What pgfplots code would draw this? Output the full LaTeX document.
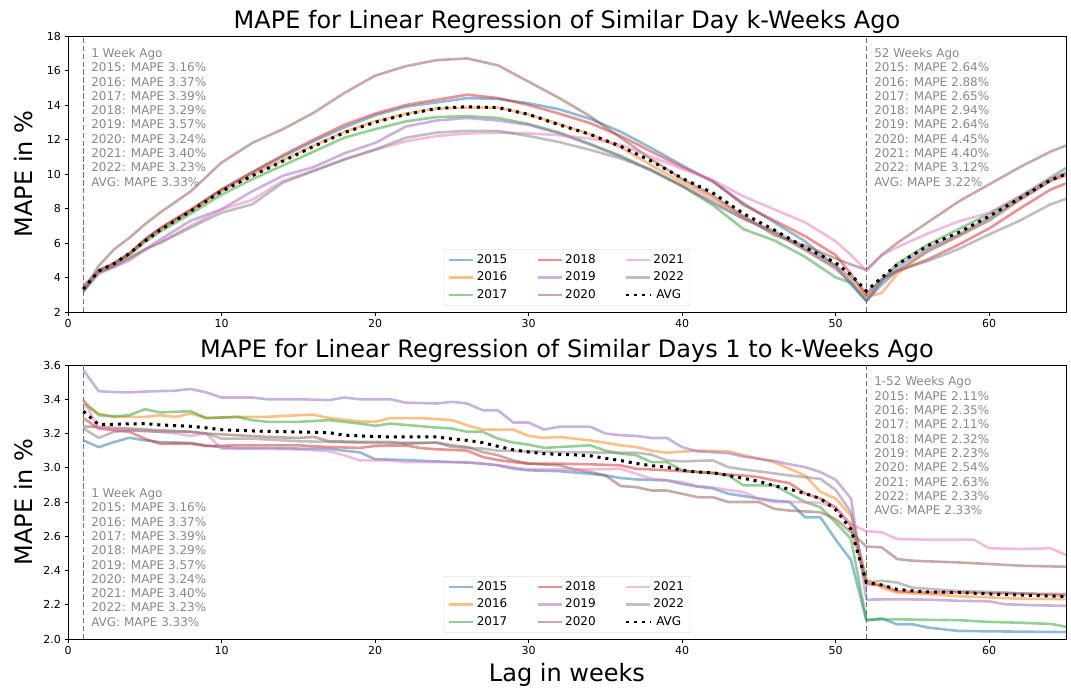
\documentclass[border=0pt]{standalone}
\usepackage{pgfplots}
\pgfplotsset{compat=1.18}
\usepackage{pgfplotstable}
\usepackage{fontspec}
\setmainfont{DejaVu Sans}
\definecolor{c15}{RGB}{31,119,180}
\definecolor{c16}{RGB}{255,127,14}
\definecolor{c17}{RGB}{44,160,44}
\definecolor{c18}{RGB}{214,39,40}
\definecolor{c19}{RGB}{148,103,189}
\definecolor{c20}{RGB}{140,86,75}
\definecolor{c21}{RGB}{227,119,194}
\definecolor{c22}{RGB}{127,127,127}
\definecolor{annotc}{RGB}{136,136,136}
\definecolor{vlinec}{RGB}{110,110,110}
\definecolor{legedge}{RGB}{204,204,204}

\pgfplotstableread{
w y15 y16 y17 y18 y19 y20 y21 y22 avg
1 3.16 3.37 3.39 3.29 3.57 3.24 3.40 3.23 3.33
2 4.40 4.35 4.35 4.40 4.30 4.67 4.30 4.20 4.38
3 4.80 4.75 4.70 4.85 4.60 5.63 4.70 4.65 4.80
4 5.40 5.35 5.30 5.40 5.00 6.30 5.10 5.15 5.40
5 6.20 6.15 6.05 6.20 5.60 7.08 5.60 5.64 6.10
6 6.85 6.80 6.65 6.85 6.20 7.76 6.05 6.00 6.75
8 7.90 7.85 7.70 7.95 7.30 9.00 7.00 6.90 7.85
10 9.10 9.00 8.80 9.10 7.95 10.66 7.95 7.76 9.00
12 10.10 9.95 9.70 10.10 9.00 11.80 8.50 8.24 9.90
14 11.00 10.80 10.50 11.10 9.90 12.60 9.60 9.50 10.75
16 11.90 11.65 11.30 12.00 10.40 13.55 10.20 10.17 11.60
18 12.70 12.45 12.10 12.85 11.20 14.70 10.85 10.84 12.40
20 13.40 13.05 12.60 13.50 11.80 15.70 11.40 11.42 13.00
22 13.90 13.50 13.05 14.00 12.75 16.25 11.90 12.10 13.45
24 14.15 13.80 13.30 14.30 13.10 16.60 12.20 12.40 13.80
26 14.40 13.85 13.35 14.60 13.25 16.70 12.35 12.50 13.90
28 14.35 13.85 13.25 14.40 13.10 16.30 12.40 12.50 13.85
30 14.10 13.45 12.90 14.00 12.85 15.35 12.35 12.20 13.45
32 13.75 12.90 12.40 13.50 12.35 14.40 12.25 11.85 12.85
34 13.20 12.30 11.75 12.95 11.70 13.35 12.05 11.40 12.30
36 12.45 11.55 11.05 12.20 11.00 12.10 11.70 10.90 11.60
38 11.50 10.50 10.20 11.30 10.20 10.85 11.00 10.25 10.75
40 10.50 9.50 9.30 10.40 9.30 9.70 10.30 9.30 9.75
42 9.55 8.60 8.20 9.60 8.40 8.75 9.65 8.30 8.90
44 8.30 7.50 6.80 8.20 7.40 7.55 8.70 7.40 7.70
46 7.20 6.60 6.15 7.30 6.60 6.45 7.95 6.70 6.75
48 6.10 5.60 5.20 6.40 5.60 5.85 7.20 5.70 5.75
50 4.65 4.60 4.00 5.30 4.50 5.10 6.10 4.70 4.85
51 3.60 3.80 3.70 4.20 3.70 4.75 5.30 4.00 4.15
52 2.64 2.88 2.65 2.94 2.64 4.45 4.40 3.12 3.22
53 3.60 3.10 3.80 3.90 3.80 5.30 5.30 3.90 4.00
54 4.40 4.20 4.80 4.35 4.60 6.00 5.75 4.40 4.75
56 5.50 5.60 5.90 5.05 5.70 7.20 6.55 4.95 5.85
58 6.40 6.40 6.80 5.90 6.50 8.40 7.25 5.65 6.60
60 7.30 7.40 7.70 6.85 7.50 9.40 7.75 6.50 7.55
62 8.50 8.50 8.70 8.00 8.60 10.40 8.70 7.30 8.60
64 9.60 9.60 9.80 9.10 9.70 11.30 9.70 8.25 9.65
65 10.00 9.90 10.35 9.45 10.10 11.65 10.05 8.55 10.00
}\topdata

\tikzset{annot/.style={anchor=north west, inner sep=0pt, align=left, text=annotc, font=\fontsize{12}{14.3}\selectfont}}

\pgfplotsset{
  /pgf/number format/assume math mode=true,
  yr/.style={line width=2.6pt, opacity=0.5, line join=round},
  avgst/.style={black, line width=3pt, dash pattern=on 3pt off 4.9pt, line cap=butt},
  vl/.style={vlinec, line width=1.5pt, dash pattern=on 5.5pt off 2.4pt, forget plot},
  panel/.style={
    scale only axis, width=998pt,
    xmin=0, xmax=65, xtick={0,10,...,60},
    tick align=outside, tick pos=left, major tick length=3.5pt,
    tick style={black, line width=0.8pt},
    axis line style={black, line width=0.8pt},
    ticklabel style={font=\fontsize{11}{13}\selectfont},
    every axis title/.style={at={(0.5,1)}, anchor=base, yshift=7.4pt, font=\fontsize{24}{28}\selectfont},
    ylabel={MAPE in \%},
    ylabel style={at={(rel axis cs:0,0.5)}, anchor=center, yshift=44pt, font=\fontsize{24}{28}\selectfont},
    legend columns=3, transpose legend,
    legend image code/.code={\draw[##1, line width=2.8pt] (0pt,0pt) -- (24pt,0pt);},
    legend style={at={(0.5,0.022)}, anchor=south, draw=legedge, rounded corners=2pt,
      fill=white, fill opacity=0.8, text opacity=1,
      font=\fontsize{12}{14}\selectfont, row sep=0pt, inner xsep=4pt, inner ysep=2pt,
      nodes={text height=9pt, text depth=2.5pt, inner ysep=3pt},
      /tikz/every even column/.append style={column sep=27pt}},
  },
}

\begin{document}
\begin{tikzpicture}
\path[use as bounding box] (0pt,0pt) rectangle (1071pt,-690pt);

\begin{axis}[panel, at={(68pt,-36pt)}, anchor=north west, height=276pt,
  ymin=2, ymax=18, ytick={2,4,...,18},
  title={MAPE for Linear Regression of Similar Day k-Weeks Ago}]
\addplot[vl] coordinates {(1,2) (1,18)};
\addplot[vl] coordinates {(52,2) (52,18)};
\addplot[yr, c15] table[x=w, y=y15] {\topdata}; \addlegendentry{2015}
\addplot[yr, c16] table[x=w, y=y16] {\topdata}; \addlegendentry{2016}
\addplot[yr, c17] table[x=w, y=y17] {\topdata}; \addlegendentry{2017}
\addplot[yr, c18] table[x=w, y=y18] {\topdata}; \addlegendentry{2018}
\addplot[yr, c19] table[x=w, y=y19] {\topdata}; \addlegendentry{2019}
\addplot[yr, c20] table[x=w, y=y20] {\topdata}; \addlegendentry{2020}
\addplot[yr, c21] table[x=w, y=y21] {\topdata}; \addlegendentry{2021}
\addplot[yr, c22] table[x=w, y=y22] {\topdata}; \addlegendentry{2022}
\addplot[avgst] table[x=w, y=avg] {\topdata}; \addlegendentry{AVG}
\node[annot] at (rel axis cs:0.0231,0.956) {1 Week Ago\\2015: MAPE 3.16\%\\2016: MAPE 3.37\%\\2017: MAPE 3.39\%\\2018: MAPE 3.29\%\\2019: MAPE 3.57\%\\2020: MAPE 3.24\%\\2021: MAPE 3.40\%\\2022: MAPE 3.23\%\\AVG: MAPE 3.33\%};
\node[annot] at (rel axis cs:0.8077,0.956) {52 Weeks Ago\\2015: MAPE 2.64\%\\2016: MAPE 2.88\%\\2017: MAPE 2.65\%\\2018: MAPE 2.94\%\\2019: MAPE 2.64\%\\2020: MAPE 4.45\%\\2021: MAPE 4.40\%\\2022: MAPE 3.12\%\\AVG: MAPE 3.22\%};
\end{axis}

\begin{axis}[panel, at={(68pt,-365pt)}, anchor=north west, height=274pt,
  ymin=2.0, ymax=3.6, ytick={2.0,2.2,...,3.6},
  yticklabel style={/pgf/number format/fixed, /pgf/number format/fixed zerofill, /pgf/number format/precision=1},
  title={MAPE for Linear Regression of Similar Days 1 to k-Weeks Ago},
  xlabel={Lag in weeks},
  xlabel style={at={(rel axis cs:0.5,0)}, anchor=center, yshift=-36pt, font=\fontsize{24}{28}\selectfont}]
\addplot[vl] coordinates {(1,2.0) (1,3.6)};
\addplot[vl] coordinates {(52,2.0) (52,3.6)};
\addplot[yr, c15] coordinates {(1,3.16)(2,3.12)(3,3.15)(4,3.175)(5,3.16)(6,3.15)(8,3.145)(9,3.13)(10,3.12)(11,3.115)(13,3.115)(15,3.112)(17,3.11)(19,3.09)(20,3.05)(22,3.045)(24,3.037)(26,3.03)(27,3.024)(28,3.015)(29,2.995)(30,2.985)(32,2.98)(34,2.965)(35,2.955)(36,2.94)(37,2.932)(39,2.926)(40,2.906)(41,2.89)(42,2.88)(43,2.848)(44,2.835)(45,2.82)(46,2.808)(47,2.80)(48,2.711)(49,2.711)(50,2.58)(51,2.46)(52,2.11)(53,2.12)(54,2.086)(55,2.086)(56,2.067)(58,2.047)(60,2.045)(62,2.043)(65,2.04)}; \addlegendentry{2015}
\addplot[yr, c16] coordinates {(1,3.37)(2,3.317)(3,3.297)(5,3.297)(6,3.307)(7,3.297)(8,3.317)(9,3.29)(11,3.297)(13,3.297)(15,3.307)(16,3.31)(17,3.29)(19,3.27)(20,3.268)(21,3.29)(23,3.29)(25,3.278)(26,3.248)(27,3.223)(29,3.223)(30,3.186)(31,3.174)(32,3.18)(34,3.16)(36,3.131)(37,3.121)(38,3.10)(39,3.088)(41,3.10)(43,3.096)(44,3.073)(46,3.033)(47,2.994)(48,2.955)(49,2.86)(50,2.82)(51,2.72)(52,2.35)(53,2.30)(54,2.27)(56,2.262)(58,2.25)(60,2.243)(62,2.235)(65,2.233)}; \addlegendentry{2016}
\addplot[yr, c17] coordinates {(1,3.39)(2,3.307)(3,3.30)(4,3.307)(5,3.342)(6,3.323)(7,3.327)(8,3.33)(9,3.29)(11,3.297)(12,3.278)(13,3.268)(15,3.268)(17,3.278)(19,3.258)(20,3.245)(21,3.258)(22,3.25)(24,3.235)(25,3.229)(26,3.21)(27,3.21)(28,3.17)(29,3.147)(30,3.135)(31,3.116)(32,3.121)(34,3.131)(35,3.10)(36,3.082)(37,3.073)(38,3.033)(39,3.033)(40,2.985)(41,2.975)(42,2.971)(43,2.955)(44,2.897)(46,2.897)(47,2.85)(48,2.80)(49,2.77)(50,2.68)(51,2.584)(52,2.11)(53,2.115)(54,2.115)(56,2.112)(58,2.11)(60,2.10)(62,2.095)(64,2.088)(65,2.072)}; \addlegendentry{2017}
\addplot[yr, c18] coordinates {(1,3.29)(2,3.229)(3,3.219)(4,3.21)(5,3.17)(6,3.14)(8,3.14)(9,3.127)(11,3.131)(13,3.131)(15,3.131)(17,3.121)(19,3.116)(20,3.127)(22,3.13)(23,3.115)(24,3.108)(26,3.10)(27,3.063)(28,3.045)(29,3.033)(30,3.024)(32,3.024)(34,3.02)(36,3.014)(37,2.994)(39,2.985)(41,2.975)(43,2.96)(44,2.955)(45,2.945)(46,2.926)(47,2.91)(48,2.85)(49,2.82)(50,2.77)(51,2.66)(52,2.32)(53,2.315)(54,2.28)(56,2.272)(58,2.272)(60,2.268)(62,2.265)(65,2.262)}; \addlegendentry{2018}
\addplot[yr, c19] coordinates {(1,3.57)(2,3.447)(3,3.442)(4,3.44)(5,3.445)(7,3.45)(8,3.46)(9,3.44)(10,3.41)(12,3.41)(13,3.40)(15,3.40)(17,3.395)(18,3.41)(19,3.40)(21,3.40)(22,3.38)(24,3.375)(25,3.385)(26,3.375)(27,3.336)(28,3.336)(29,3.264)(30,3.264)(31,3.223)(32,3.24)(34,3.24)(35,3.20)(36,3.19)(37,3.186)(38,3.174)(39,3.174)(40,3.12)(41,3.096)(43,3.085)(44,3.065)(46,3.04)(47,3.02)(48,3.004)(49,2.975)(50,2.93)(51,2.82)(52,2.23)(54,2.232)(56,2.23)(58,2.223)(60,2.22)(61,2.203)(63,2.197)(65,2.194)}; \addlegendentry{2019}
\addplot[yr, c20] coordinates {(1,3.24)(2,3.239)(3,3.233)(4,3.229)(6,3.219)(8,3.21)(9,3.20)(11,3.19)(13,3.18)(15,3.174)(16,3.18)(17,3.155)(19,3.151)(21,3.151)(22,3.14)(24,3.147)(25,3.131)(26,3.121)(27,3.092)(28,3.073)(29,3.043)(30,3.024)(32,3.014)(33,2.99)(34,2.975)(35,2.955)(36,2.893)(37,2.887)(38,2.867)(39,2.867)(40,2.848)(41,2.828)(42,2.828)(43,2.80)(44,2.80)(45,2.80)(46,2.76)(47,2.75)(49,2.74)(50,2.70)(51,2.623)(52,2.54)(53,2.535)(54,2.467)(55,2.457)(58,2.447)(60,2.438)(62,2.428)(65,2.422)}; \addlegendentry{2020}
\addplot[yr, c21] coordinates {(1,3.40)(2,3.229)(4,3.219)(6,3.21)(7,3.20)(8,3.186)(9,3.20)(10,3.112)(12,3.112)(15,3.108)(17,3.096)(18,3.073)(19,3.043)(21,3.043)(22,3.033)(24,3.033)(26,3.033)(28,3.014)(30,2.99)(32,2.99)(34,2.99)(36,2.994)(37,2.965)(38,2.936)(39,2.926)(40,2.916)(41,2.893)(42,2.885)(43,2.87)(44,2.858)(45,2.818)(46,2.80)(48,2.80)(49,2.795)(50,2.765)(51,2.67)(52,2.63)(53,2.623)(54,2.584)(56,2.58)(58,2.58)(59,2.58)(60,2.53)(62,2.526)(64,2.53)(65,2.49)}; \addlegendentry{2021}
\addplot[yr, c22] coordinates {(1,3.23)(2,3.174)(3,3.21)(4,3.219)(6,3.21)(8,3.21)(9,3.20)(10,3.17)(12,3.17)(15,3.155)(17,3.151)(19,3.147)(21,3.141)(22,3.147)(24,3.147)(25,3.121)(27,3.112)(28,3.10)(30,3.096)(32,3.092)(35,3.088)(37,3.088)(38,3.076)(39,3.043)(40,3.037)(42,3.043)(43,3.004)(44,2.99)(45,2.979)(47,2.955)(48,2.945)(49,2.935)(50,2.87)(51,2.74)(52,2.33)(53,2.34)(54,2.33)(55,2.30)(58,2.28)(61,2.272)(65,2.252)}; \addlegendentry{2022}
\addplot[avgst] coordinates {(1,3.33)(2,3.252)(3,3.254)(5,3.258)(6,3.25)(8,3.242)(9,3.233)(10,3.222)(11,3.218)(13,3.212)(15,3.209)(17,3.205)(18,3.19)(19,3.186)(21,3.18)(24,3.18)(25,3.168)(26,3.16)(27,3.147)(28,3.125)(29,3.105)(30,3.092)(31,3.082)(33,3.075)(34,3.07)(35,3.055)(36,3.042)(37,3.025)(38,3.012)(39,3.004)(40,2.985)(41,2.975)(42,2.971)(43,2.955)(44,2.938)(45,2.92)(46,2.895)(47,2.875)(48,2.85)(49,2.82)(50,2.755)(51,2.64)(52,2.33)(53,2.315)(54,2.29)(55,2.281)(56,2.275)(58,2.272)(60,2.263)(62,2.257)(65,2.248)}; \addlegendentry{AVG}
\node[annot] at (rel axis cs:0.0231,0.5504) {1 Week Ago\\2015: MAPE 3.16\%\\2016: MAPE 3.37\%\\2017: MAPE 3.39\%\\2018: MAPE 3.29\%\\2019: MAPE 3.57\%\\2020: MAPE 3.24\%\\2021: MAPE 3.40\%\\2022: MAPE 3.23\%\\AVG: MAPE 3.33\%};
\node[annot] at (rel axis cs:0.8077,0.9577) {1-52 Weeks Ago\\2015: MAPE 2.11\%\\2016: MAPE 2.35\%\\2017: MAPE 2.11\%\\2018: MAPE 2.32\%\\2019: MAPE 2.23\%\\2020: MAPE 2.54\%\\2021: MAPE 2.63\%\\2022: MAPE 2.33\%\\AVG: MAPE 2.33\%};
\end{axis}
\end{tikzpicture}
\end{document}
